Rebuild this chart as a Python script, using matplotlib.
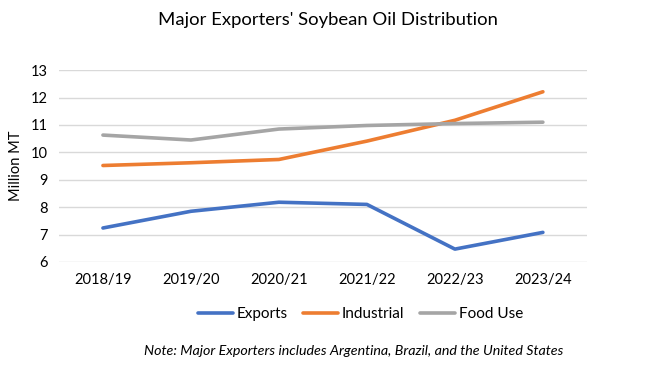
import matplotlib.pyplot as plt

# Marketing years and series (million MT)
years = ['2018/19', '2019/20', '2020/21', '2021/22', '2022/23', '2023/24']
exports = [7.24, 7.85, 8.18, 8.10, 6.47, 7.08]
industrial = [9.52, 9.62, 9.74, 10.41, 11.17, 12.21]
food_use = [10.63, 10.45, 10.85, 10.98, 11.05, 11.10]

plt.rcParams['font.family'] = ['Lato', 'DejaVu Sans']

fig = plt.figure(figsize=(6.55, 3.69), dpi=100)
ax = fig.add_axes([0.09, 0.29, 0.806, 0.52])

x = range(len(years))
ax.plot(x, exports, color='#4472C4', lw=2.6, label='Exports', solid_capstyle='round')
ax.plot(x, industrial, color='#ED7D31', lw=2.6, label='Industrial', solid_capstyle='round')
ax.plot(x, food_use, color='#A5A5A5', lw=2.6, label='Food Use', solid_capstyle='round')

ax.set_xlim(-0.5, len(years) - 0.5)
ax.set_ylim(6, 13)
ax.set_yticks(range(6, 14))
ax.set_xticks(list(x))
ax.set_xticklabels(years)
ax.tick_params(length=0, labelsize=10.5, colors='#000000', pad=8)
ax.grid(axis='y', color='#D9D9D9', lw=1)
ax.set_axisbelow(True)
for s in ax.spines.values():
    s.set_visible(False)
ax.set_ylabel('Million MT', fontsize=10.5, labelpad=6)

fig.text(0.5, 0.945, "Major Exporters' Soybean Oil Distribution", ha='center', va='center', fontsize=13.3)
fig.legend(loc='center', bbox_to_anchor=(0.55, 0.148), ncol=3, frameon=False,
           fontsize=11, handlelength=2.3, handletextpad=0.25, columnspacing=1.0)
fig.text(0.54, 0.048, 'Note: Major Exporters includes Argentina, Brazil, and the United States',
         ha='center', va='center', fontsize=10.3, style='italic')

fig.savefig('out.png', dpi=100, facecolor='white')
